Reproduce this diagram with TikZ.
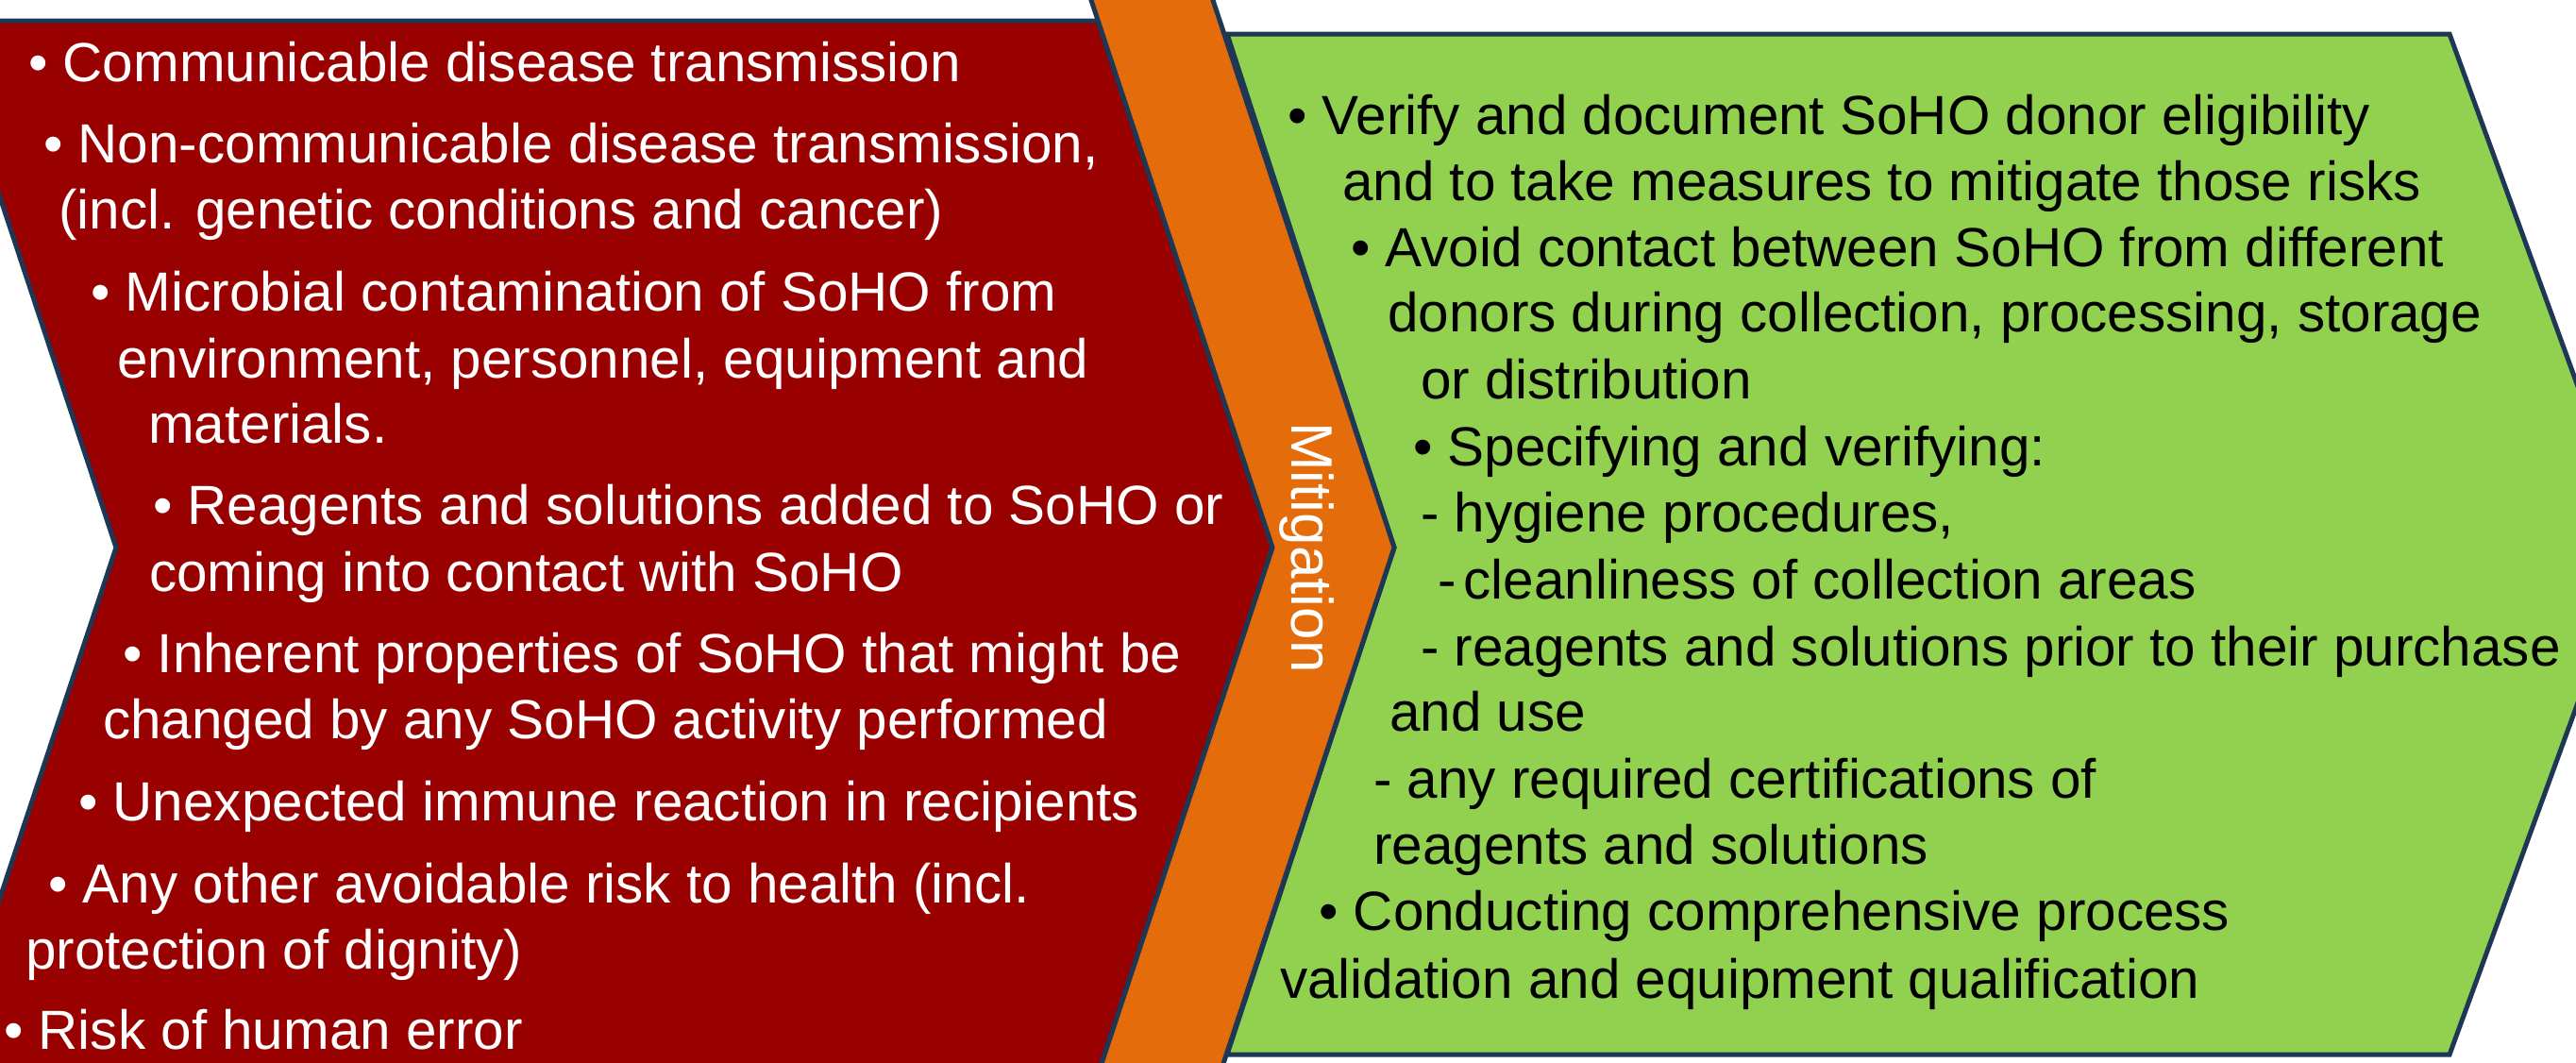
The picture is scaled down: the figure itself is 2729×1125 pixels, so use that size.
\documentclass[tikz,border=0pt]{standalone}
\usepackage{fontspec}
\setmainfont{Liberation Sans}
\definecolor{redfill}{RGB}{153,0,0}
\definecolor{orangefill}{RGB}{228,108,10}
\definecolor{greenfill}{RGB}{146,208,80}
\definecolor{bordercol}{RGB}{30,55,85}
\begin{document}
\begin{tikzpicture}[x=1pt,y=-1pt,
  shapeborder/.style={draw=bordercol, line width=5pt, line join=miter},
  redtxt/.style={anchor=base west, inner sep=0pt, text=white, font=\fontsize{58.4}{70}\selectfont},
  greentxt/.style={anchor=base west, inner sep=0pt, text=black, font=\fontsize{58.4}{70}\selectfont},
  mittxt/.style={rotate=-90, anchor=base, inner sep=0pt, text=white, font=\fontsize{62}{70}\selectfont}]
\useasboundingbox (0,0) rectangle (2729,1125);
\clip (0,0) rectangle (2729,1125);
\fill[white] (0,0) rectangle (2729,1125);
% shapes
\draw[shapeborder, fill=redfill] (-62,22) -- (1163,22) -- (1348,580) -- (1163,1138) -- (-62,1138) -- (123,580) -- cycle;
\draw[shapeborder, fill=greenfill] (1300,36) -- (2595,36) -- (2792,577) -- (2595,1117) -- (1300,1117) -- (1477,580) -- cycle;
\draw[shapeborder, fill=orangefill] (1146,-30) -- (1275,-30) -- (1477,580) -- (1275,1190) -- (1146,1190) -- (1348,580) -- cycle;
% mitigation label
\node[mittxt] (mit) at (1368,580) {Mitigation};
% red texts
\node[redtxt] (r1) at (30,86) {• Communicable disease transmission};
\node[redtxt] (r2) at (46,172) {• Non-communicable disease transmission,};
\node[redtxt] (r3) at (62,242) {(incl. genetic conditions and cancer)};
\node[redtxt] (r4) at (96,329) {• Microbial contamination of SoHO from};
\node[redtxt] (r5) at (124,400) {environment, personnel, equipment and};
\node[redtxt] (r6) at (157,469) {materials.};
\node[redtxt] (r7) at (162,555) {• Reagents and solutions added to SoHO or};
\node[redtxt] (r8) at (158,626) {coming into contact with SoHO};
\node[redtxt] (r9) at (130,712) {• Inherent properties of SoHO that might be};
\node[redtxt] (r10) at (109,782) {changed by any SoHO activity performed};
\node[redtxt] (r11) at (83,869) {• Unexpected immune reaction in recipients};
\node[redtxt] (r12) at (51,956) {• Any other avoidable risk to health (incl.};
\node[redtxt] (r13) at (27,1026) {protection of dignity)};
\node[redtxt] (r14) at (4,1111) {• Risk of human error};
% green texts
\node[greentxt] (g1) at (1364,142) {• Verify and document SoHO donor eligibility};
\node[greentxt] (g2) at (1422,212) {and to take measures to mitigate those risks};
\node[greentxt] (g3) at (1431,282) {• Avoid contact between SoHO from different};
\node[greentxt] (g4) at (1470,351) {donors during collection, processing, storage};
\node[greentxt] (g5) at (1505,422) {or distribution};
\node[greentxt] (g6) at (1497,493) {• Specifying and verifying:};
\node[greentxt] (g7) at (1505,563) {- hygiene procedures,};
\node[greentxt] (g8) at (1523,634) {-\hspace{8pt}cleanliness of collection areas};
\node[greentxt] (g9) at (1505,705) {- reagents and solutions prior to their purchase};
\node[greentxt] (g10) at (1472,774) {and use};
\node[greentxt] (g11) at (1455,845) {- any required certifications of};
\node[greentxt] (g12) at (1455,915) {reagents and solutions};
\node[greentxt] (g13) at (1397,985) {• Conducting comprehensive process};
\node[greentxt] (g14) at (1356,1057) {validation and equipment qualification};
\end{tikzpicture}
\end{document}
